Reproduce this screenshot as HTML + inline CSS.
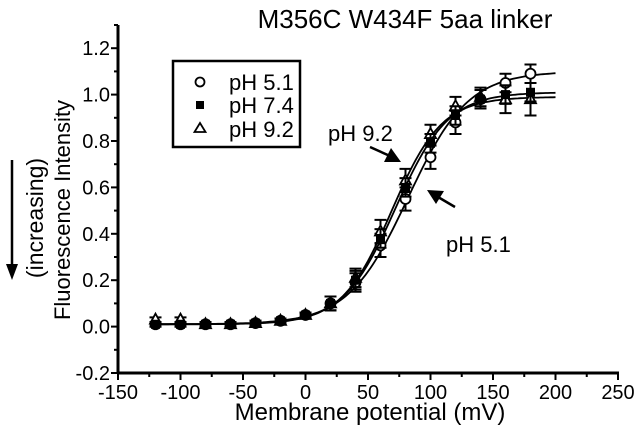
<!DOCTYPE html>
<html><head><meta charset="utf-8"><style>
body{margin:0;background:#fff}
svg text{font-family:"Liberation Sans",Arial,sans-serif;fill:#000}
</style></head><body>
<svg id="chart" width="640" height="432" xmlns="http://www.w3.org/2000/svg">
<text x="405" y="28" font-size="26" text-anchor="middle">M356C W434F 5aa linker</text>
<g id="axes"></g>
<g id="series"></g>
<text x="370" y="420" font-size="24" text-anchor="middle">Membrane potential (mV)</text>
<text transform="translate(70,210) rotate(-90)" font-size="22" text-anchor="middle">Fluorescence Intensity</text>
<text transform="translate(43,218) rotate(-90)" font-size="23" text-anchor="middle">(increasing)</text>
<g><line x1="12" y1="160" x2="12" y2="266" stroke="#000" stroke-width="2.5"/><polygon points="6,264 18,264 12,280" fill="#000"/></g>
<g>
<rect x="173" y="61" width="127" height="86" fill="#fff" stroke="#000" stroke-width="2.5"/>
<circle cx="200" cy="82" r="4.5" fill="none" stroke="#000" stroke-width="1.8"/>
<text x="229" y="90" font-size="22">pH 5.1</text>
<rect x="196" y="101" width="8" height="8" fill="#000"/>
<text x="229" y="113" font-size="22">pH 7.4</text>
<polygon points="200,123 205.5,132 194.5,132" fill="none" stroke="#000" stroke-width="1.8"/>
<text x="229" y="137" font-size="22">pH 9.2</text>
</g>
<text x="328" y="141" font-size="22">pH 9.2</text>
<g><line x1="370" y1="147" x2="390" y2="156" stroke="#000" stroke-width="2.5"/><polygon points="401,162 384,162 391,148" fill="#000"/></g>
<text x="446" y="252" font-size="22">pH 5.1</text>
<g><line x1="455" y1="207" x2="438" y2="197" stroke="#000" stroke-width="2.5"/><polygon points="427,190 444,191 436,204" fill="#000"/></g>
</svg>
<script>
const xs=[-120,-100,-80,-60,-40,-20,0,20,40,60,80,100,120,140,160,180];
const ph51=[0.01,0.01,0.01,0.01,0.015,0.025,0.05,0.1,0.19,0.35,0.55,0.73,0.88,0.98,1.05,1.09];
const ph74=[0.01,0.01,0.01,0.01,0.015,0.025,0.05,0.1,0.2,0.38,0.6,0.79,0.91,0.98,1.0,1.01];
const ph92=[0.03,0.03,0.01,0.01,0.015,0.025,0.05,0.1,0.21,0.41,0.63,0.83,0.95,0.99,0.98,0.98];
const err51=[0.01,0.01,0.01,0.01,0.01,0.01,0.01,0.03,0.04,0.05,0.05,0.05,0.05,0.04,0.04,0.04];
const err74=[0.01,0.01,0.01,0.01,0.01,0.01,0.01,0.03,0.04,0.04,0.04,0.04,0.04,0.04,0.04,0.04];
const err92=[0.01,0.01,0.01,0.01,0.01,0.01,0.01,0.03,0.04,0.05,0.05,0.04,0.04,0.04,0.06,0.07];
const fit51=[0.01,1.1,82,24];
const fit74=[0.01,1.01,72,21];
const fit92=[0.01,0.99,69,20];
const xTicks=[-150,-100,-50,0,50,100,150,200,250];
const yTicks=[-0.2,0,0.2,0.4,0.6,0.8,1.0,1.2];
const X=v=>118+(v+150)*1.25;
const Y=v=>373-(v+0.2)*232;
const NS="http://www.w3.org/2000/svg";
function mk(t,a,p){const e=document.createElementNS(NS,t);for(const k in a)e.setAttribute(k,a[k]);p.appendChild(e);return e;}
const ax=document.getElementById('axes');
let l=mk('line',{x1:117,y1:373,x2:619,y2:373,stroke:'#000','stroke-width':3},ax);


l=mk('line',{x1:118,y1:374,x2:118,y2:Y(1.3),stroke:'#000','stroke-width':3},ax);


xTicks.forEach((v,i)=>{mk('line',{x1:X(v),y1:373,x2:X(v),y2:380,stroke:'#000','stroke-width':2},ax);
 if(i<xTicks.length-1)mk('line',{x1:X(v+25),y1:373,x2:X(v+25),y2:377,stroke:'#000','stroke-width':2},ax);
 const t=mk('text',{x:X(v),y:399,'font-size':20,'text-anchor':'middle'},ax);t.textContent=v;
 
 });
yTicks.forEach((v,i)=>{mk('line',{x1:111,y1:Y(v),x2:118,y2:Y(v),stroke:'#000','stroke-width':2},ax);
 mk('line',{x1:114,y1:Y(v+0.1),x2:118,y2:Y(v+0.1),stroke:'#000','stroke-width':2},ax);
 const t=mk('text',{x:110,y:Y(v)+7,'font-size':20,'text-anchor':'end'},ax);t.textContent=v.toFixed(1);
 
 });
const sg=document.getElementById('series');
function series(name,ys,er,fit,marker){
 const g=mk('g',{},sg);
 
 
 let d='';for(let v=-120;v<=200;v+=2){const y=fit[1]+(fit[0]-fit[1])/(1+Math.exp((v-fit[2])/fit[3]));d+=(d?'L':'M')+X(v).toFixed(1)+','+Y(y).toFixed(1);}
 const p=mk('path',{d:d,fill:'none',stroke:'#000','stroke-width':1.8},g);
 
 
 xs.forEach((x,i)=>{const cx=X(x),cy=Y(ys[i]),e1=Y(ys[i]+er[i]),e2=Y(ys[i]-er[i]);
  mk('path',{d:`M${cx},${e1}V${e2}M${cx-6},${e1}H${cx+6}M${cx-6},${e2}H${cx+6}`,stroke:'#000','stroke-width':2,fill:'none'},g);
  let m;
  if(marker==='c')m=mk('circle',{cx:cx,cy:cy,r:5,fill:'#fff',stroke:'#000','stroke-width':1.8},g);
  else if(marker==='s')m=mk('rect',{x:cx-4.5,y:cy-4.5,width:9,height:9,fill:'#000'},g);
  else m=mk('polygon',{points:`${cx},${cy-6} ${cx+5.5},${cy+4} ${cx-5.5},${cy+4}`,fill:'#fff',stroke:'#000','stroke-width':1.8},g);
  
  });
}
series('ph51',ph51,err51,fit51,'c');
series('ph92',ph92,err92,fit92,'t');
series('ph74',ph74,err74,fit74,'s');
</script>
</body></html>
